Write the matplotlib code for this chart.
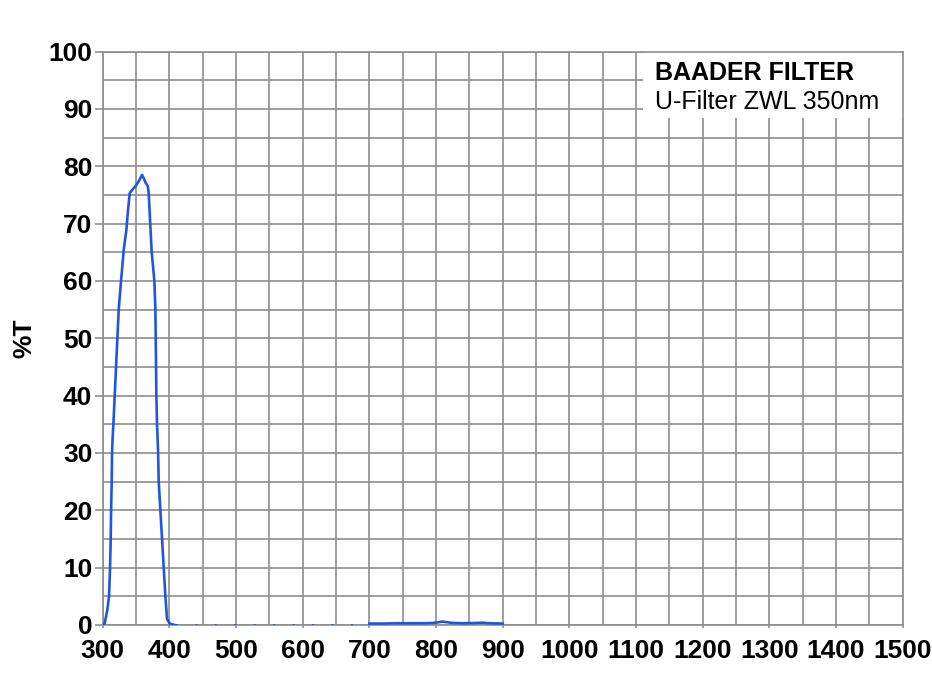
import matplotlib
matplotlib.use("Agg")
import matplotlib.pyplot as plt
from matplotlib.patches import Rectangle
from matplotlib.ticker import MultipleLocator

# ---- data ----
uv_wl = [300, 303, 307, 309.5, 311, 312, 312.6, 313.5, 314, 314.8, 316, 318, 320, 322, 324,
         327.5, 329, 331.5, 335.5, 338, 340.5, 345, 349, 353, 355.5, 359, 362.5, 364, 367.5,
         369, 371.5, 373.5, 377.5, 379, 379.5, 380, 380.5, 381.5, 383, 384, 386.5, 389,
         391.5, 394, 396.5, 401, 408]
uv_T = [0, 0.3, 2.7, 5, 10, 15, 20, 25, 30, 32.5, 35, 40, 45, 50, 55,
        60, 62, 65.4, 68.9, 72.4, 75.3, 76, 76.5, 77.2, 77.7, 78.5, 77.7, 77.2, 76.6,
        75.3, 69.5, 65, 60, 55, 50, 45, 40, 35, 30.5, 25, 20, 15,
        10, 5, 1, 0.2, 0]
vis_wl = [410, 700]
vis_T = [0, 0]
nir_wl = [700, 720, 740, 760, 780, 795, 805, 810, 815, 825, 840, 860, 870, 880, 900]
nir_T = [0.25, 0.25, 0.3, 0.3, 0.3, 0.35, 0.5, 0.6, 0.5, 0.35, 0.3, 0.35, 0.4, 0.3, 0.25]

x_ticks = list(range(300, 1501, 100))
y_ticks = list(range(0, 101, 10))
title_bold = "BAADER FILTER"
title_sub = "U-Filter ZWL 350nm"
y_label = "%T"

# ---- figure ----
plt.rcParams['font.family'] = ['Liberation Sans', 'DejaVu Sans']
fig = plt.figure(figsize=(9.32, 6.75), dpi=100)
ax = fig.add_axes([0.1102, 0.0741, 0.8584, 0.8494])

grid_c = '#8e8e8e'
ax.set_xlim(300, 1500)
ax.set_ylim(0, 100)
ax.set_xticks(x_ticks)
ax.set_yticks(y_ticks)
ax.xaxis.set_minor_locator(MultipleLocator(50))
ax.yaxis.set_minor_locator(MultipleLocator(5))
ax.set_axisbelow(True)
ax.grid(which='both', color=grid_c, linewidth=1.2)
for s in ax.spines.values():
    s.set_color(grid_c)
    s.set_linewidth(1.2)

ax.tick_params(axis='y', which='major', length=5.5, width=1.2, color=grid_c, pad=2,
               labelsize=19)
ax.tick_params(axis='x', which='major', length=2, width=1.2, color=grid_c, pad=8,
               labelsize=19)
ax.tick_params(which='minor', length=0)
for lab in ax.get_xticklabels() + ax.get_yticklabels():
    lab.set_fontweight('bold')

ax.set_ylabel(y_label, fontsize=19, fontweight='bold')
ax.yaxis.set_label_coords(-0.083, 0.5)

# white label box in top-right
ax.add_patch(Rectangle((1110, 88.5), 390, 11.5, facecolor='white', edgecolor='none',
                       zorder=1))
ax.text(1128, 96.2, title_bold, fontsize=18, fontweight='bold', va='center', ha='left',
        zorder=3)
ax.text(1128, 91.3, title_sub, fontsize=18, va='center', ha='left', zorder=3)

blue = '#2156dc'
ax.plot(uv_wl, uv_T, color=blue, lw=1.9, zorder=3, solid_joinstyle='round')
ax.plot(vis_wl, vis_T, color=blue, lw=1.4, linestyle=(0, (1, 9)), zorder=3)
ax.plot(nir_wl, nir_T, color=blue, lw=1.9, zorder=3)

fig.savefig('out.png', dpi=100)
